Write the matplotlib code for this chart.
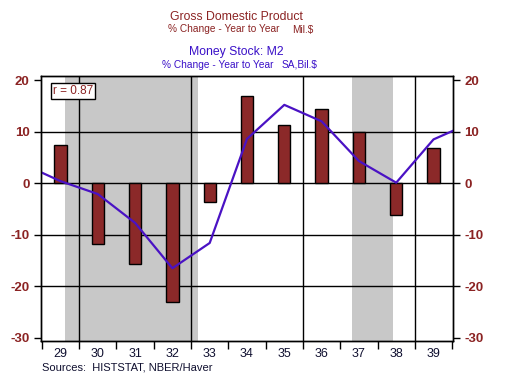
import matplotlib
matplotlib.use("Agg")
import matplotlib.pyplot as plt
from matplotlib.ticker import FixedLocator, NullFormatter, FixedFormatter
import numpy as np

plt.rcParams['font.family'] = ['Liberation Sans', 'DejaVu Sans']

# Data
years = [29, 30, 31, 32, 33, 34, 35, 36, 37, 38, 39]
year_labels = ['29', '30', '31', '32', '33', '34', '35', '36', '37', '38', '39']
gdp_pct = [7.4, -11.8, -15.7, -23.1, -3.7, 17.0, 11.2, 14.3, 10.0, -6.2, 6.9]
m2_years = [28, 29, 30, 31, 32, 33, 34, 35, 36, 37, 38, 39, 40]
m2_pct = [3.7, 0.4, -2.1, -7.7, -16.5, -11.6, 8.6, 15.2, 12.0, 4.3, 0.1, 8.5, 11.7]
recessions = [(29.12, 32.68), (36.81, 37.91)]
yticks = [-30, -20, -10, 0, 10, 20]

bar_color = '#8B2929'
line_color = '#4A12C4'
red_text = '#8B2323'
blue_text = '#3A10C8'

fig = plt.figure(figsize=(5.25, 3.78), dpi=100)
ax = fig.add_axes([40.7/525, 1-340.7/378, (453.3-40.7)/525, (340.7-76)/378])

ax.set_xlim(28.47, 39.53)
ax.set_ylim(-30.56, 20.8)

for a, b in recessions:
    ax.axvspan(a, b, color='#C8C8C8', lw=0, zorder=0)

for y in [-20, -10, 0, 10]:
    ax.axhline(y, color='black', lw=1.0, zorder=1)
for x in [29.5, 32.5, 35.5, 38.5]:
    ax.axvline(x, color='black', lw=1.0, zorder=1)

ax.bar(years, gdp_pct, width=0.33, color=bar_color, edgecolor='black', lw=1.0, zorder=2)
ax.plot(m2_years, m2_pct, color=line_color, lw=1.6, zorder=3, clip_on=True)

# x axis
ax.xaxis.set_major_locator(FixedLocator(np.arange(28.5, 40.0, 1.0)))
ax.xaxis.set_major_formatter(NullFormatter())
ax.xaxis.set_minor_locator(FixedLocator(years))
ax.xaxis.set_minor_formatter(FixedFormatter(year_labels))
ax.tick_params(axis='x', which='major', direction='out', length=6, width=1.0, color='black')
ax.tick_params(axis='x', which='minor', length=0, pad=5.5, labelsize=9, labelcolor='#101030')

# y axis
ax.set_yticks(yticks)
ax.set_yticklabels([str(v) for v in yticks], fontweight='bold', color=red_text, fontsize=9.5)
ax.tick_params(axis='y', direction='out', length=5, width=1.0, pad=3)

ax2 = ax.twinx()
ax2.set_ylim(ax.get_ylim())
ax2.set_yticks(yticks)
ax2.set_yticklabels([str(v) for v in yticks], fontweight='bold', color=red_text, fontsize=9.5)
ax2.tick_params(axis='y', direction='out', length=5, width=1.0, pad=3)

for a_ in (ax, ax2):
    for s in a_.spines.values():
        s.set_linewidth(1.0)

ax.text(0.03, 0.943, 'r = 0.87', transform=ax.transAxes, ha='left', va='center',
        fontsize=8.5, color=red_text, zorder=5,
        bbox=dict(boxstyle='square,pad=0.15', fc='white', ec='black', lw=1.0))

# titles
fig.text(236/525, 1-17/378, 'Gross Domestic Product', ha='center', va='center',
         fontsize=8.8, color=red_text)
fig.text(168/525, 1-29.5/378, '% Change - Year to Year', ha='left', va='center',
         fontsize=7.3, color=red_text)
fig.text(292/525, 1-29.5/378, 'Mil.$', ha='left', va='center', fontsize=7.3, color=red_text)
fig.text(236/525, 1-52.5/378, 'Money Stock: M2', ha='center', va='center',
         fontsize=8.8, color=blue_text)
fig.text(162/525, 1-64.5/378, '% Change - Year to Year', ha='left', va='center',
         fontsize=7.3, color=blue_text)
fig.text(282/525, 1-64.5/378, 'SA,Bil.$', ha='left', va='center', fontsize=7.3, color=blue_text)

fig.text(42/525, 1-367/378, 'Sources:  HISTSTAT, NBER/Haver', ha='left', va='center',
         fontsize=8, color='#101030')

fig.savefig('out.png', dpi=100)
